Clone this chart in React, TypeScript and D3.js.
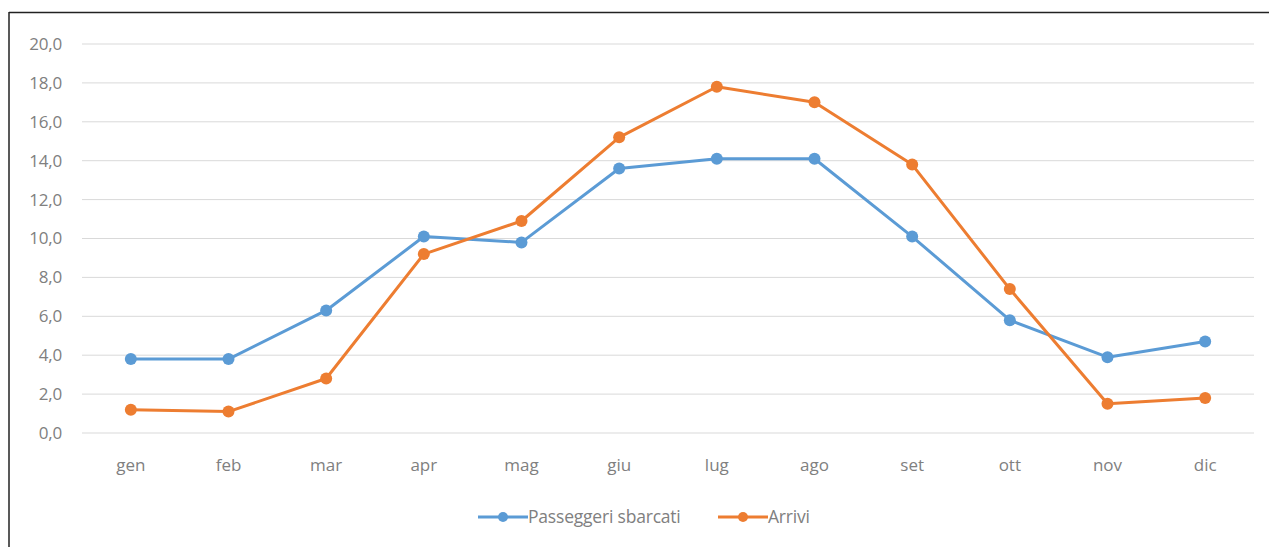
import React from "react";
import * as d3 from "d3";

const months = ["gen", "feb", "mar", "apr", "mag", "giu", "lug", "ago", "set", "ott", "nov", "dic"];
const passeggeri = [3.8, 3.8, 6.3, 10.1, 9.8, 13.6, 14.1, 14.1, 10.1, 5.8, 3.9, 4.7];
const arrivi = [1.2, 1.1, 2.8, 9.2, 10.9, 15.2, 17.8, 17.0, 13.8, 7.4, 1.5, 1.8];
const yTicks = [0, 2, 4, 6, 8, 10, 12, 14, 16, 18, 20];
const seriesNames = ["Passeggeri sbarcati", "Arrivi"];
const colors = ["#5B9BD5", "#ED7D31"];

export default function App() {
  const W = 1269, H = 547;
  const x = d3.scaleBand<string>().domain(months).range([82, 1254]);
  const y = d3.scaleLinear().domain([0, 20]).range([433, 44]);
  const line = d3.line<number>().x((_, i) => x(months[i])! + x.bandwidth() / 2).y((d) => y(d));
  const series = [passeggeri, arrivi];
  const font = "'Open Sans', 'Liberation Sans', sans-serif";
  const legendItems = [
    { x: 478, name: seriesNames[0], color: colors[0] },
    { x: 718, name: seriesNames[1], color: colors[1] },
  ];
  return (
    <svg width={W} height={H} style={{ position: "absolute", left: 0, top: 0 }} fontFamily={font}>
      <rect x={0} y={0} width={W} height={H} fill="#fff" />
      <line x1={9} x2={W} y1={12.5} y2={12.5} stroke="#222" strokeWidth={1.5} />
      <line x1={9} x2={9} y1={12} y2={H} stroke="#222" strokeWidth={1.5} />
      {yTicks.map((t) => (
        <g key={t}>
          <line x1={82} x2={1254} y1={y(t)} y2={y(t)} stroke="#d9d9d9" strokeWidth={1} />
          <text x={62} y={y(t)} dy="0.35em" textAnchor="end" fontSize={17} fill="#808080" letterSpacing={-0.2}>
            {t.toFixed(1).replace(".", ",")}
          </text>
        </g>
      ))}
      {months.map((m) => (
        <text key={m} x={x(m)! + x.bandwidth() / 2} y={471} textAnchor="middle" fontSize={17} fill="#808080">
          {m}
        </text>
      ))}
      {series.map((s, si) => (
        <g key={si}>
          <path d={line(s)!} fill="none" stroke={colors[si]} strokeWidth={3} strokeLinejoin="round" />
          {s.map((v, i) => (
            <circle key={i} cx={x(months[i])! + x.bandwidth() / 2} cy={y(v)} r={6} fill={colors[si]} />
          ))}
        </g>
      ))}
      {legendItems.map((it) => (
        <g key={it.name}>
          <line x1={it.x} x2={it.x + 50} y1={517} y2={517} stroke={it.color} strokeWidth={3} />
          <circle cx={it.x + 25} cy={517} r={5} fill={it.color} />
          <text x={it.x + 50} y={517} dy="0.35em" fontSize={17.5} fill="#808080" letterSpacing={-0.2}>
            {it.name}
          </text>
        </g>
      ))}
    </svg>
  );
}
